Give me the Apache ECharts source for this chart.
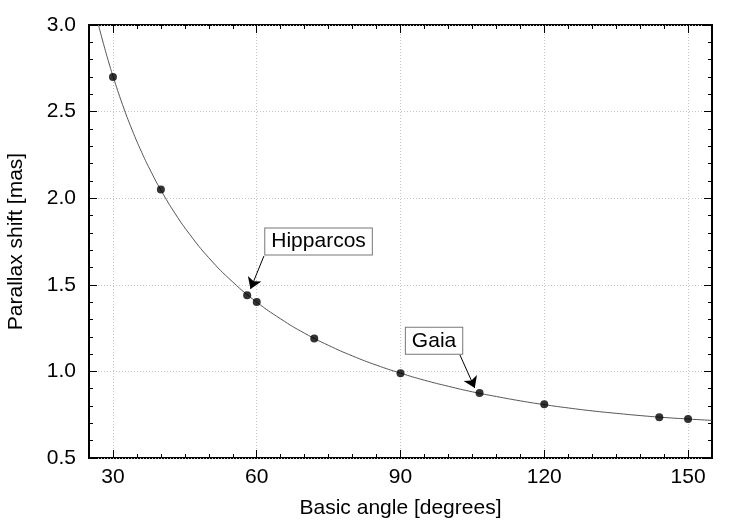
<!DOCTYPE html>
<html>
<head>
<meta charset="utf-8">
<script src="https://cdn.jsdelivr.net/npm/echarts@6/dist/echarts.min.js"></script>
<style>html,body{margin:0;padding:0;background:#fff}#c{width:750px;height:525px}</style>
</head>
<body>
<div id="c"></div>
<script>
// Data
const curveAngles = [27, 28, 29, 30, 32, 34, 36, 38, 40, 43, 46, 50, 55, 60, 65, 70, 75, 80, 85, 90, 95, 100, 105, 110, 115, 120, 125, 130, 135, 140, 145, 150, 155];
const curveShift  = [2.998, 2.894, 2.796, 2.705, 2.540, 2.394, 2.265, 2.150, 2.047, 1.910, 1.792, 1.656, 1.516, 1.400, 1.303, 1.220, 1.150, 1.089, 1.036, 0.990, 0.949, 0.914, 0.882, 0.855, 0.830, 0.808, 0.789, 0.772, 0.758, 0.745, 0.734, 0.725, 0.717];
const pointAngles = [30, 40, 58, 60, 72, 90, 106.5, 120, 144, 150];
const pointShift  = [2.70, 2.05, 1.44, 1.40, 1.19, 0.99, 0.875, 0.81, 0.735, 0.725];
const xMajorTicks = [30, 60, 90, 120, 150];
const annotationNames = ['Hipparcos', 'Gaia'];
const annotationBoxAt = [[72.9, 1.75], [97.0, 1.177]];
const annotationArrowFrom = [[61.5, 1.666], [102.4, 1.095]];
const annotationArrowTo = [[58.7, 1.476], [105.5, 0.904]];

const FONT = '"Liberation Sans", Arial, sans-serif';
const FS = 21;
const gridLine = { show: true, lineStyle: { color: '#c4c4c4', type: [1, 2], width: 1 } };

const chart = echarts.init(document.getElementById('c'), null, { renderer: 'canvas' });

function xAxisDef(pos, major) {
  return {
    type: 'value', position: pos, min: 25, max: 155, interval: 5,
    axisLine: { show: false },
    axisTick: major
      ? { show: true, inside: true, length: 8, customValues: xMajorTicks, lineStyle: { color: '#000' } }
      : { show: true, inside: true, length: 4, lineStyle: { color: '#000' } },
    axisLabel: (major && pos === 'bottom')
      ? { show: true, customValues: xMajorTicks, color: '#000', fontSize: FS, fontFamily: FONT, margin: 9 }
      : { show: false },
    splitLine: (major && pos === 'bottom') ? gridLine : { show: false },
    name: (major && pos === 'bottom') ? 'Basic angle [degrees]' : '',
    nameLocation: 'middle', nameGap: 40,
    nameTextStyle: { color: '#000', fontSize: FS, fontFamily: FONT }
  };
}
function yAxisDef(pos, main) {
  return {
    type: 'value', position: pos, min: 0.5, max: 3.0, interval: 0.5,
    axisLine: { show: false },
    axisTick: { show: true, inside: true, length: 8, lineStyle: { color: '#000' } },
    minorTick: { show: true, splitNumber: 5, length: 4, lineStyle: { color: '#000' } },
    axisLabel: main
      ? { show: true, color: '#000', fontSize: FS, fontFamily: FONT, margin: 13, formatter: v => v.toFixed(1) }
      : { show: false },
    splitLine: main ? gridLine : { show: false },
    name: main ? 'Parallax shift [mas]' : '',
    nameLocation: 'middle', nameGap: 62,
    nameTextStyle: { color: '#000', fontSize: FS, fontFamily: FONT }
  };
}

const option = {
  animation: false,
  backgroundColor: '#fff',
  grid: { left: 89, right: 38, top: 25, bottom: 67, show: true, borderColor: '#000', borderWidth: 2, backgroundColor: 'transparent', containLabel: false, outerBoundsMode: 'none' },
  xAxis: [xAxisDef('bottom', true), xAxisDef('bottom', false), xAxisDef('top', true), xAxisDef('top', false)],
  yAxis: [yAxisDef('left', true), yAxisDef('right', false)],
  series: [
    {
      type: 'line', xAxisIndex: 0, yAxisIndex: 0,
      data: curveAngles.map((a, i) => [a, curveShift[i]]),
      smooth: true, showSymbol: false, symbol: 'none',
      lineStyle: { color: '#555', width: 1 },
      clip: true, z: 2
    },
    {
      type: 'scatter', xAxisIndex: 0, yAxisIndex: 0,
      data: pointAngles.map((a, i) => [a, pointShift[i]]),
      symbol: 'circle', symbolSize: 8,
      itemStyle: { color: '#000' }, z: 3,
      markLine: {
        silent: true, symbol: ['none', 'arrow'], symbolSize: 11,
        lineStyle: { color: '#000', width: 1, type: 'solid' },
        itemStyle: { color: '#000' },
        label: { show: false },
        emphasis: { disabled: true },
        data: annotationArrowFrom.map((f, i) => [{ coord: f }, { coord: annotationArrowTo[i] }])
      },
      markPoint: {
        silent: true, symbol: 'rect', symbolSize: 0,
        label: {
          show: true, position: 'inside', color: '#000', fontSize: FS, fontFamily: FONT,
          backgroundColor: '#fff', borderColor: '#777', borderWidth: 1, padding: [3, 6, 2, 6],
          formatter: p => p.name
        },
        data: annotationNames.map((n, i) => ({ name: n, coord: annotationBoxAt[i] }))
      }
    }
  ]
};
chart.setOption(option);
</script>
</body>
</html>
